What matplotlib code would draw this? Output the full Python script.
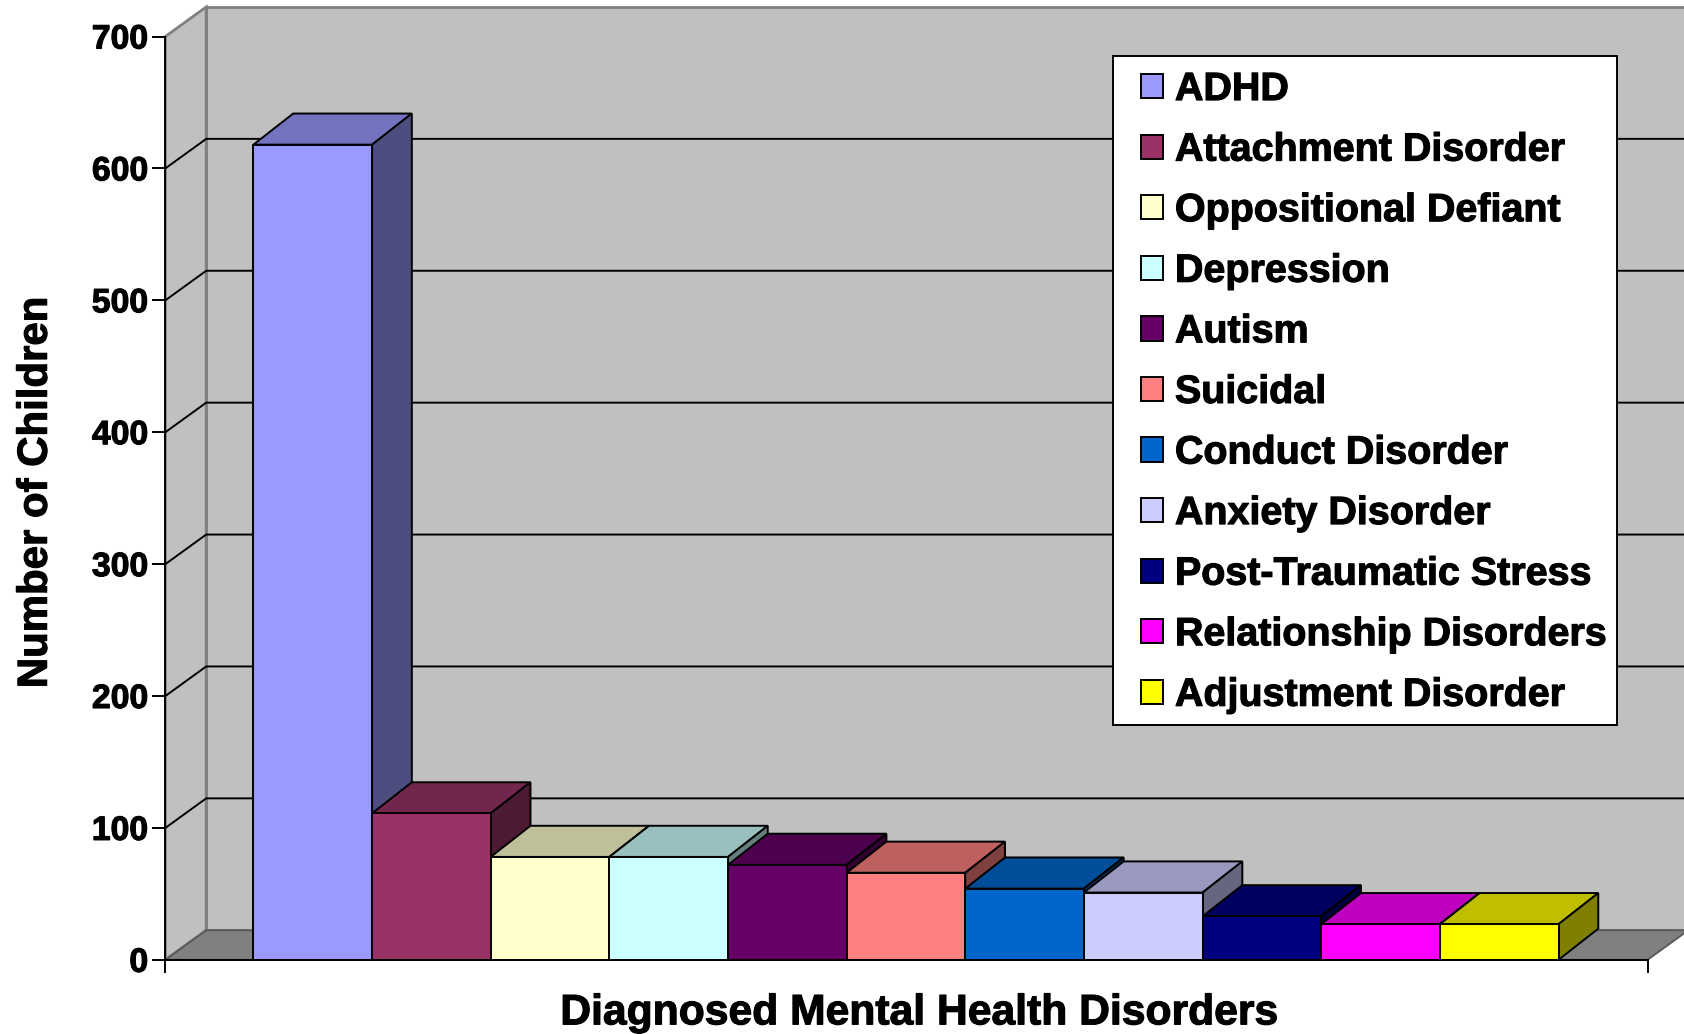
import matplotlib
matplotlib.use('Agg')
import matplotlib.pyplot as plt
import matplotlib.patheffects as pe
from matplotlib.patches import Patch, Rectangle
from matplotlib.legend_handler import HandlerPatch
from matplotlib.colors import to_rgb

plt.rcParams['font.family'] = ['Liberation Sans', 'DejaVu Sans']
plt.rcParams['font.weight'] = 'bold'

disorders = ['ADHD', 'Attachment Disorder', 'Oppositional Defiant', 'Depression', 'Autism', 'Suicidal',
             'Conduct Disorder', 'Anxiety Disorder', 'Post-Traumatic Stress', 'Relationship Disorders',
             'Adjustment Disorder']
children = [618, 111, 78, 78, 72, 66, 54, 51, 33, 27, 27]
colors = ['#9999FF', '#993366', '#FFFFCC', '#CCFFFF', '#660066', '#FF8080', '#0066CC', '#CCCCFF', '#000080',
          '#FF00FF', '#FFFF00']
y_ticks = [0, 100, 200, 300, 400, 500, 600, 700]

x_min, x_max = -1.242, 11.25
y_min, y_max = 0, 700
# fake 3d depth in data units
wall_dx, wall_dy = 0.344, 22.4
bar_dx, bar_dy = 0.335, 23.6
line_w = 1.4
wall_grey = '#C0C0C0'
edge_grey = '#808080'
heavy = [pe.withStroke(linewidth=0.8, foreground='black')]


def shade(color, factor):
    return tuple(c * factor for c in to_rgb(color))


def legend_square(legend, orig_handle, xdescent, ydescent, width, height, fontsize):
    # square sits at the right of the handle box, leaves extra left padding
    return Rectangle((width - 16.2 - xdescent, -ydescent), 16.2, height)


fig = plt.figure(figsize=(16.84, 10.34), dpi=100)
ax = fig.add_axes([165.4 / 1684, 1 - 959.8 / 1034, (1647.5 - 165.4) / 1684, (959.8 - 36.5) / 1034])
ax.set_xlim(x_min, x_max)
ax.set_ylim(y_min, y_max)
ax.patch.set_visible(False)

# walls and floor
ax.fill([x_min + wall_dx, x_max + wall_dx, x_max + wall_dx, x_min + wall_dx],
        [wall_dy, wall_dy, y_max + wall_dy, y_max + wall_dy],
        facecolor=wall_grey, edgecolor=edge_grey, lw=2, clip_on=False, zorder=1)
ax.fill([x_min, x_min + wall_dx, x_min + wall_dx, x_min],
        [y_min, wall_dy, y_max + wall_dy, y_max],
        facecolor=wall_grey, edgecolor=edge_grey, lw=2, clip_on=False, zorder=1)
ax.fill([x_min, x_max, x_max + wall_dx, x_min + wall_dx],
        [y_min, y_min, wall_dy, wall_dy],
        facecolor=edge_grey, edgecolor='#5A5A5A', lw=line_w, clip_on=False, zorder=1)

# gridlines run back along the side wall, then across the back wall
for v in y_ticks[1:-1]:
    ax.plot([x_min, x_min + wall_dx, x_max + wall_dx], [v, v + wall_dy, v + wall_dy],
            color='black', lw=line_w, clip_on=False, zorder=2)

# bars, left to right so each one covers the side of the previous
for i, (v, c) in enumerate(zip(children, colors)):
    z = 3 + i
    left, right = i - 0.5, i + 0.5
    ax.bar(i, v, width=1, color=c, edgecolor='black', lw=line_w, zorder=z + 0.2, clip_on=False)
    ax.fill([left, right, right + bar_dx, left + bar_dx], [v, v, v + bar_dy, v + bar_dy],
            facecolor=shade(c, 0.75), edgecolor='black', lw=line_w, zorder=z, clip_on=False)
    ax.fill([right, right + bar_dx, right + bar_dx, right], [0, bar_dy, v + bar_dy, v],
            facecolor=shade(c, 0.5), edgecolor='black', lw=line_w, zorder=z, clip_on=False)

for side in ['top', 'right']:
    ax.spines[side].set_visible(False)
for side in ['left', 'bottom']:
    ax.spines[side].set_linewidth(line_w)
    ax.spines[side].set_zorder(20)

ax.set_yticks(y_ticks)
ax.set_xticks([x_min, x_max])
ax.set_xticklabels([])
ax.tick_params(axis='both', length=9.4, width=line_w, pad=3, labelsize=24.3)
for t in ax.get_yticklabels():
    t.set_path_effects(heavy)

ax.set_xlabel('Diagnosed Mental Health Disorders', fontsize=30.7, fontweight='bold', va='center', path_effects=heavy)
ax.xaxis.set_label_coords(0.5087, -0.058)
ax.set_ylabel('Number of Children', fontsize=30.2, fontweight='bold', va='center', path_effects=heavy)
ax.yaxis.set_label_coords(-0.0875, 0.506)

handles = [Patch(facecolor=c, edgecolor='black', lw=line_w) for c in colors]
# blank tiny title pushes the rows down a little, top gap is bigger than the bottom one
leg = ax.legend(handles, disorders, loc='upper left', bbox_to_anchor=(1113 / 1684, 1 - 56 / 1034),
                bbox_transform=fig.transFigure, borderaxespad=0, fontsize=28.4, handlelength=0.99,
                handleheight=0.57, handletextpad=0.3, labelspacing=0.623, borderpad=0.28,
                fancybox=False, framealpha=1, edgecolor='black', title=' ', title_fontsize=3.7,
                handler_map={Patch: HandlerPatch(patch_func=legend_square)})
leg._legend_box.sep = 0
leg.get_frame().set_linewidth(line_w)
leg.set_zorder(30)
for t in leg.get_texts():
    t.set_path_effects(heavy)

fig.savefig('out.png', dpi=100)
